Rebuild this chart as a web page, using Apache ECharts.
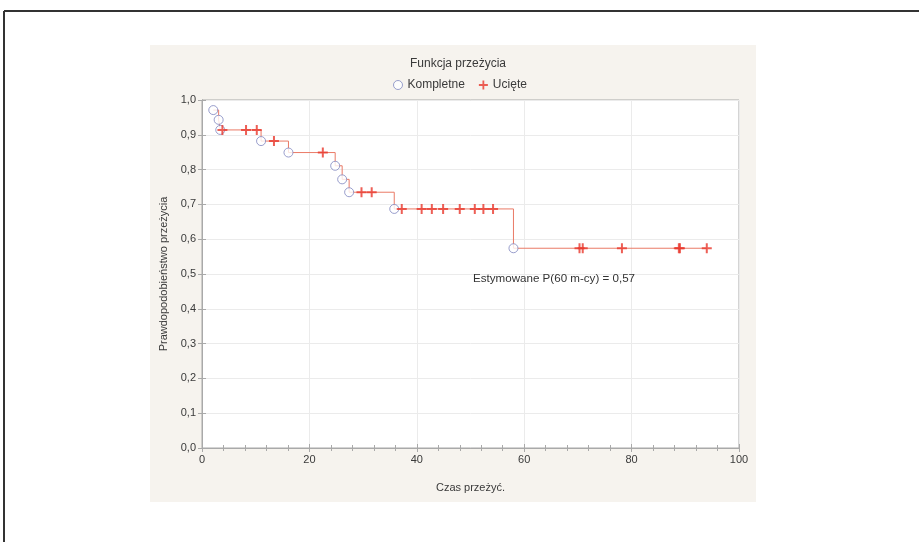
<!DOCTYPE html>
<html><head><meta charset="utf-8">
<script src="https://cdn.jsdelivr.net/npm/echarts@6/dist/echarts.min.js"></script>
<style>html,body{margin:0;padding:0;background:#fff}#c{width:919px;height:542px}</style>
</head><body><div id="c"></div>
<script>
// Complete (event) observations: time, survival probability after event
const completeTimes = [2.1, 3.1, 3.4, 11.0, 16.1, 24.8, 26.1, 27.4, 35.8, 58.0];
const completeProb  = [0.971, 0.943, 0.914, 0.882, 0.849, 0.811, 0.772, 0.735, 0.687, 0.574];
// Censored observations: time, survival probability level
const censoredTimes = [3.8, 8.2, 10.2, 13.4, 22.5, 29.7, 31.6, 37.2, 40.9, 42.8, 44.9, 48.0, 50.8, 52.4, 54.2, 70.3, 70.9, 78.2, 88.8, 89.0, 94.0];
const censoredProb  = [0.914, 0.914, 0.914, 0.882, 0.849, 0.735, 0.735, 0.687, 0.687, 0.687, 0.687, 0.687, 0.687, 0.687, 0.687, 0.574, 0.574, 0.574, 0.574, 0.574, 0.574];
const xTicks = [0, 20, 40, 60, 80, 100];
const yTicks = ['0,0','0,1','0,2','0,3','0,4','0,5','0,6','0,7','0,8','0,9','1,0'];
const titleText = 'Funkcja przeżycia';
const estimateText = 'Estymowane P(60 m-cy) = 0,57';

const FONT = 'Liberation Sans';
const completePts = completeTimes.map((t, i) => [t, completeProb[i]]);
const censoredPts = censoredTimes.map((t, i) => [t, censoredProb[i]]);
const lastT = censoredTimes[censoredTimes.length - 1];
const curve = completePts.concat([[lastT, completeProb[completeProb.length - 1]]]);
const plusPath = 'path://M4,0h2v4h4v2h-4v4h-2v-4h-4v-2h4z';

const chart = echarts.init(document.getElementById('c'));
const axisColor = '#a9a9a9';
const labelStyle = { color: '#3a3a3a', fontFamily: FONT, fontSize: 11 };
chart.setOption({
  animation: false,
  backgroundColor: '#ffffff',
  textStyle: { fontFamily: FONT },
  title: { text: titleText, left: 453, top: 53, textAlign: 'center',
    textStyle: { fontFamily: FONT, fontSize: 12, fontWeight: 'normal', color: '#3a3a3a' } },
  legend: {
    left: 388, top: 74, itemGap: 14, itemWidth: 9, itemHeight: 9,
    textStyle: { fontFamily: FONT, fontSize: 12, color: '#3a3a3a' },
    data: [
      { name: 'Kompletne', icon: 'circle', itemStyle: { color: '#fff', borderColor: '#8088c0', borderWidth: 1 } },
      { name: 'Ucięte', icon: plusPath, itemStyle: { color: '#e8372c' } }
    ]
  },
  graphic: [
    { type: 'rect', z: -1, shape: { x: 150, y: 45, width: 606, height: 457 }, style: { fill: '#f6f3ee' } },
    { type: 'line', shape: { x1: 4, y1: 11, x2: 919, y2: 11 }, style: { stroke: '#333', lineWidth: 2 } },
    { type: 'line', shape: { x1: 4, y1: 11, x2: 4, y2: 542 }, style: { stroke: '#333', lineWidth: 2 } },
    { type: 'text', z: 20, x: 473, y: 273, style: { text: estimateText, fontFamily: FONT, fontSize: 11.6, fill: '#333' } }
  ],
  grid: { left: 202, top: 100, width: 537, height: 348, show: true, backgroundColor: '#fff', borderColor: axisColor, borderWidth: 1 },
  xAxis: [{
    type: 'value', min: 0, max: 100, interval: 20,
    name: 'Czas przeżyć.', nameLocation: 'middle', nameGap: 34,
    nameTextStyle: labelStyle,
    axisLine: { lineStyle: { color: axisColor } },
    axisTick: { inside: true, length: 4, lineStyle: { color: axisColor } },
    minorTick: { show: true, splitNumber: 5, length: 3, lineStyle: { color: axisColor } },
    axisLabel: Object.assign({ margin: 6, formatter: v => String(xTicks[xTicks.indexOf(v)]) }, labelStyle),
    splitLine: { show: true, lineStyle: { color: '#ebebeb' } }
  }, {
    type: 'value', min: 0, max: 100, interval: 20, position: 'top',
    axisLine: { lineStyle: { color: axisColor } },
    axisTick: { inside: true, length: 4, lineStyle: { color: axisColor } },
    minorTick: { show: true, splitNumber: 5, length: 3, lineStyle: { color: axisColor } },
    axisLabel: { show: false }, splitLine: { show: false }
  }],
  yAxis: [{
    type: 'value', min: 0, max: 1, interval: 0.1,
    name: 'Prawdopodobieństwo przeżycia', nameLocation: 'middle', nameGap: 33,
    nameTextStyle: labelStyle,
    axisLine: { show: true, lineStyle: { color: axisColor } },
    axisTick: { show: true, inside: true, length: 4, lineStyle: { color: axisColor } },
    axisLabel: Object.assign({ margin: 6, formatter: v => yTicks[Math.round(v * 10)] }, labelStyle),
    splitLine: { show: true, lineStyle: { color: '#ebebeb' } }
  }, {
    type: 'value', min: 0, max: 1, interval: 0.1, position: 'right',
    axisLine: { show: true, lineStyle: { color: axisColor } },
    axisTick: { show: true, inside: true, length: 4, lineStyle: { color: axisColor } },
    axisLabel: { show: false }, splitLine: { show: false }
  }],
  series: [
    { name: 'curve', type: 'line', step: 'end', data: curve, showSymbol: false, symbol: 'none',
      lineStyle: { color: '#ea7a66', width: 1 }, z: 2 },
    { name: 'Kompletne', type: 'scatter', data: completePts, symbol: 'circle', symbolSize: 9,
      itemStyle: { color: '#fff', borderColor: '#7f86bf', borderWidth: 1 }, z: 3 },
    { name: 'Ucięte', type: 'scatter', data: censoredPts, symbol: plusPath, symbolSize: 10,
      itemStyle: { color: '#e8372c' }, z: 4 }
  ]
});
</script></body></html>
